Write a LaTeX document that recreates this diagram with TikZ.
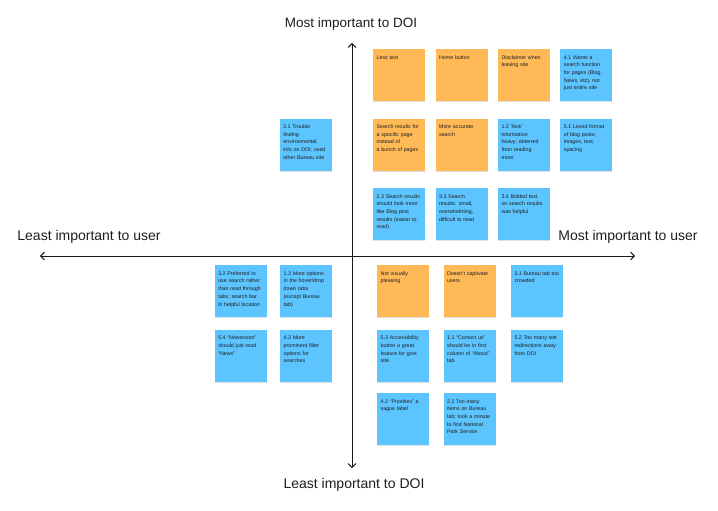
\documentclass[tikz,border=0pt]{standalone}
\usepackage{fontspec}
\setmainfont{Liberation Sans}
\usetikzlibrary{arrows.meta,positioning,shadows}

\definecolor{stickyorange}{HTML}{FFB957}
\definecolor{stickyblue}{HTML}{5CC4FF}
\definecolor{inktext}{HTML}{1E1E1E}

\begin{document}
\begin{tikzpicture}[
  x=1pt, y=-1pt,
  every node/.style={align=left, text=inktext},
  %% ─── sticky notes ────────────────────────────────────────────
  note/.style={
    draw=none, text width=45pt, inner xsep=3.5pt, inner ysep=5pt,
    text height=5pt, text depth=37pt,
    font=\fontsize{5.3}{7.7}\selectfont,
    drop shadow={shadow xshift=0pt, shadow yshift=-1pt, opacity=0.12, fill=black}},
  wish/.style={note, fill=stickyorange},
  finding/.style={note, fill=stickyblue},
  %% ─── axes and their labels ───────────────────────────────────
  axis/.style={{Straight Barb[length=3.8pt,width=8pt]}-{Straight Barb[length=3.8pt,width=8pt]},
    line width=1pt, color=black!90},
  axislab/.style={font=\fontsize{14}{16}\selectfont, align=center}
]
  \useasboundingbox (0,0) rectangle (718,511);

  %% ════════════════════════════════════════════════════════════════
  %%  AXES
  %% ════════════════════════════════════════════════════════════════
  \coordinate (xleft)  at (40,256);
  \coordinate (xright) at (635,256);
  \coordinate (ytop)   at (352,43);
  \coordinate (ybot)   at (352,468);
  \draw[axis] (xleft) -- (xright);
  \draw[axis] (ybot) -- (ytop);

  \node[axislab, font=\fontsize{13.5}{16}\selectfont] (doihigh) at (351,24) {Most important to DOI};
  \node[axislab] (doilow)  at (354,485) {Least important to DOI};
  \node[axislab] (userlow) at (89,237)  {Least important to user};
  \node[axislab] (userhigh) at (628,237) {Most important to user};

  %% ════════════════════════════════════════════════════════════════
  %%  UPPER HALF
  %% ════════════════════════════════════════════════════════════════
  \node[wish, anchor=north west] (less) at (373,49) {Less text};
  \node[wish, right=10pt of less] (home) {Home button};
  \node[wish, right=10pt of home] (disclaim) {Disclaimer when\\leaving site};
  \node[finding, right=10pt of disclaim] (searchfn) {4.1 Wants a\\search function\\for pages (Blog,\\News, etc), not\\just entire site};

  \node[wish, below=17pt of less] (srchpage) {Search results for\\a specific page\\instead of\\a bunch of pages};
  \node[wish, right=10pt of srchpage] (accurate) {More accurate\\search};
  \node[finding, right=10pt of accurate] (textheavy) {1.2 Text/\\information\\heavy; deterred\\from reading\\more};
  \node[finding, right=10pt of textheavy] (blogfmt) {5.1 Loved format\\of blog posts;\\images, text,\\spacing};
  \node[finding, left=41pt of srchpage] (trouble) {2.1 Trouble\\finding\\environmental\\info on DOI; used\\other Bureau site};

  \node[finding, below=17pt of srchpage] (lookblog) {2.3 Search results\\should look more\\like Blog post\\results (easier to\\read)};
  \node[finding, right=10pt of lookblog] (overwhelm) {3.3 Search\\results: small,\\overwhelming,\\difficult to read};
  \node[finding, right=10pt of overwhelm] (bolded) {3.4 Bolded text\\on search results\\was helpful};

  %% ════════════════════════════════════════════════════════════════
  %%  LOWER HALF
  %% ════════════════════════════════════════════════════════════════
  % right of the DOI axis
  \node[wish, anchor=north west] (visual) at (377,265) {Not visually\\pleasing};
  \node[wish, right=14pt of visual] (captivate) {Doesn't captivate\\users};
  \node[finding, right=15pt of captivate] (crowded) {3.1 Bureau tab too\\crowded};

  \node[finding, below=12pt of visual] (access) {5.3 Accessibility\\button a great\\feature for govt\\site};
  \node[finding, right=14pt of access] (contact) {1.1 “Contact us”\\should be in first\\column of “About”\\tab};
  \node[finding, right=15pt of contact] (redirect) {5.2 Too many site\\redirections away\\from DOI};

  \node[finding, below=11pt of access] (vague) {4.2 “Priorities” a\\vague label};
  \node[finding, right=14pt of vague] (items) {2.2 Too many\\items on Bureau\\tab; took a minute\\to find National\\Park Service};

  % left of the DOI axis
  \node[finding, anchor=north west] (hoverdrop) at (280,265) {1.3 More options\\in the hover/drop\\down tabs\\(except Bureau\\tab)};
  \node[finding, left=13pt of hoverdrop] (prefsearch) {3.2 Preferred to\\use search rather\\than read through\\tabs; search bar\\in helpful location};
  \node[finding, below=12pt of hoverdrop] (filters) {4.3 More\\prominent filter\\options for\\searches};
  \node[finding, left=13pt of filters] (newsroom) {5.4 “Newsroom”\\should just read\\“News”};

\end{tikzpicture}
\end{document}
